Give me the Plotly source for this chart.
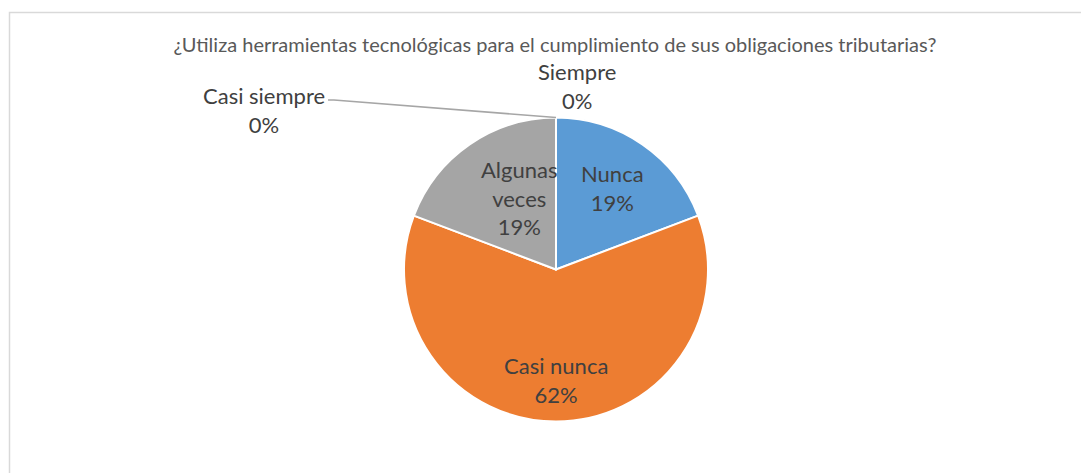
import math
import plotly.graph_objects as go

categories = ["Nunca", "Casi nunca", "Algunas veces", "Casi siempre", "Siempre"]
display_labels = ["Nunca", "Casi nunca", "Algunas<br>veces", "Casi siempre", "Siempre"]
values = [5, 16, 5, 0, 0]
colors = ["#5B9BD5", "#ED7D31", "#A5A5A5", "#FFC000", "#4472C4"]
title_text = "¿Utiliza herramientas tecnológicas para el cumplimiento de sus obligaciones tributarias?"

W, H = 1089, 473
OFF = 8  # page body margin
FONT = "Lato, 'Open Sans', sans-serif"
LABEL_COLOR = "#404040"


def px(x):
    return (x - OFF) / W


def py(y):
    return 1 - (y - OFF) / H


# pie geometry (page pixels)
CX, CY, R = 556, 269.5, 152

fig = go.Figure()
fig.add_trace(go.Pie(
    labels=categories,
    values=values,
    textinfo="none",
    marker=dict(colors=colors, line=dict(color="white", width=2)),
    sort=False,
    direction="clockwise",
    rotation=0,
    showlegend=False,
    hoverinfo="label+percent",
    domain=dict(x=[px(CX - R), px(CX + R)], y=[py(CY + R), py(CY - R)]),
))

total = sum(values)
pcts = [f"{round(100 * v / total)}%" for v in values]

# inside labels placed along each slice's bisector
label_style = {  # radius fraction, angle tweak (deg)
    "Nunca": (0.65, 0),
    "Casi nunca": (0.73, 0),
    "Algunas veces": (0.53, 7),
}
cum = 0
for cat, lab, v, p in zip(categories, display_labels, values, pcts):
    mid = (cum + v / 2) / total * 360
    cum += v
    if cat in label_style:
        rf, tweak = label_style[cat]
        a = math.radians(mid + tweak)
        x = CX + rf * R * math.sin(a)
        y = CY - rf * R * math.cos(a)
        fig.add_annotation(x=px(x), y=py(y), xref="paper", yref="paper",
                           text=f"{lab}<br>{p}", showarrow=False, align="center",
                           xanchor="center", yanchor="middle",
                           font=dict(family=FONT, size=22, color=LABEL_COLOR))

# zero-value labels
fig.add_annotation(x=px(577), y=py(86), xref="paper", yref="paper",
                   text=f"{display_labels[4]}<br>{pcts[4]}", showarrow=False,
                   xanchor="center", yanchor="middle",
                   font=dict(family=FONT, size=22, color=LABEL_COLOR), align="center")
fig.add_annotation(x=px(264), y=py(110), xref="paper", yref="paper",
                   text=f"{display_labels[3]}<br>{pcts[3]}", showarrow=False,
                   xanchor="center", yanchor="middle",
                   font=dict(family=FONT, size=22, color=LABEL_COLOR), align="center")
# leader line
fig.add_shape(type="path", xref="paper", yref="paper",
              path=f"M {px(328)} {py(100)} L {px(334)} {py(100)} L {px(556)} {py(117.5)}",
              line=dict(color="#A6A6A6", width=1.5))

# chart border
fig.add_shape(type="rect", xref="paper", yref="paper",
              x0=px(9.5), x1=1.05, y0=-0.05, y1=py(12.5),
              line=dict(color="#D9D9D9", width=1.5), fillcolor="rgba(0,0,0,0)")

fig.update_layout(
    width=W, height=H,
    margin=dict(l=0, r=0, t=0, b=0),
    paper_bgcolor="white",
    plot_bgcolor="white",
    title=dict(text=title_text, x=px(555), xanchor="center", y=py(45), yanchor="middle",
               font=dict(family=FONT, size=20, color="#595959")),
)

fig.write_html("out.html")
